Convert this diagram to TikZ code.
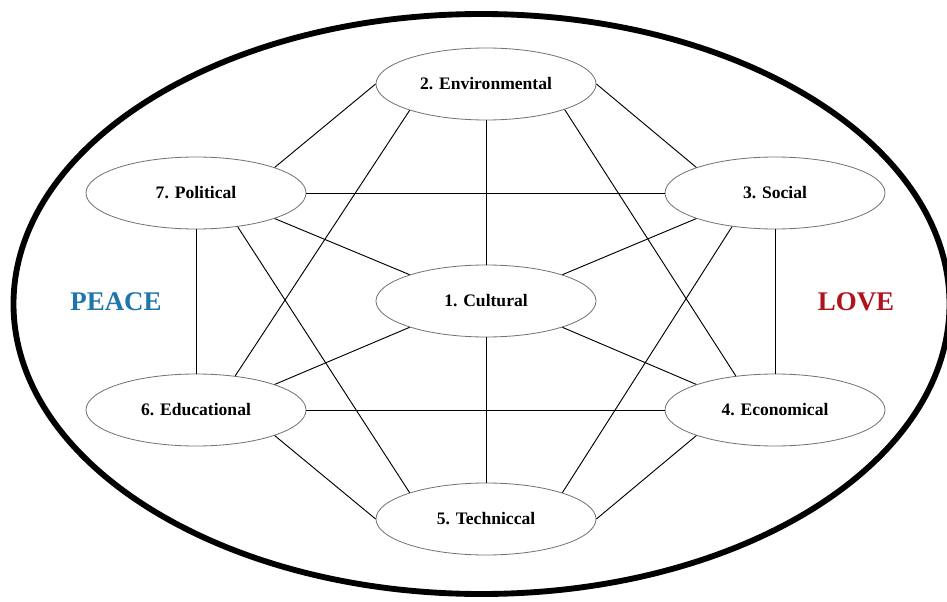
\documentclass[tikz,border=0pt]{standalone}
\usepackage{fontspec}
\setmainfont{Liberation Serif}
\usepackage{xcolor}
\usepackage{tikz}
\usetikzlibrary{shapes.geometric}
\definecolor{peaceblue}{RGB}{30,118,172}
\definecolor{lovered}{RGB}{175,20,28}

\begin{document}
\begin{tikzpicture}[
    area/.style={ellipse, draw=black!55, line width=0.7pt, minimum width=6.6cm, minimum height=2.16cm, inner sep=0pt, font=\fontsize{15}{18}\selectfont\bfseries},
    link/.style={line width=0.8pt},
    word/.style={font=\fontsize{23}{27}\selectfont\bfseries},
]
    \useasboundingbox (0,0) rectangle (28.41,18.03);

    % Outer ring
    \draw[line width=5pt] (14.445,8.91) ellipse [x radius=14.04, y radius=8.7];

    % Areas
    \node[area] (env) at (14.58,15.51) {2. Environmental};
    \node[area] (pol) at (5.88,12.24) {7. Political};
    \node[area] (soc) at (23.25,12.24) {3. Social};
    \node[area] (cul) at (14.58,9.00) {1. Cultural};
    \node[area] (edu) at (5.88,5.73) {6. Educational};
    \node[area] (eco) at (23.25,5.73) {4. Economical};
    \node[area] (tec) at (14.58,2.46) {5. Techniccal};

    % Side words
    \node[word, text=peaceblue] (peace) at (3.48,8.97) {PEACE};
    \node[word, text=lovered] (love) at (25.68,8.97) {LOVE};

    % Links
    \draw[link] (env.west) -- (pol.18);
    \draw[link] (env.east) -- (soc.162);
    \draw[link] (env.south) -- (cul.north);
    \draw[link] (env.199) -- (edu.41);
    \draw[link] (env.342) -- (eco.139);
    \draw[link] (pol.east) -- (soc.west);
    \draw[link] (pol.342) -- (cul.161);
    \draw[link] (pol.south) -- (edu.north);
    \draw[link] (pol.321) -- (tec.161);
    \draw[link] (soc.198) -- (cul.19);
    \draw[link] (soc.south) -- (eco.north);
    \draw[link] (soc.218) -- (tec.19);
    \draw[link] (cul.199) -- (edu.18);
    \draw[link] (cul.341) -- (eco.162);
    \draw[link] (cul.south) -- (tec.north);
    \draw[link] (edu.east) -- (eco.west);
    \draw[link] (edu.342) -- (tec.west);
    \draw[link] (eco.198) -- (tec.east);
\end{tikzpicture}
\end{document}
